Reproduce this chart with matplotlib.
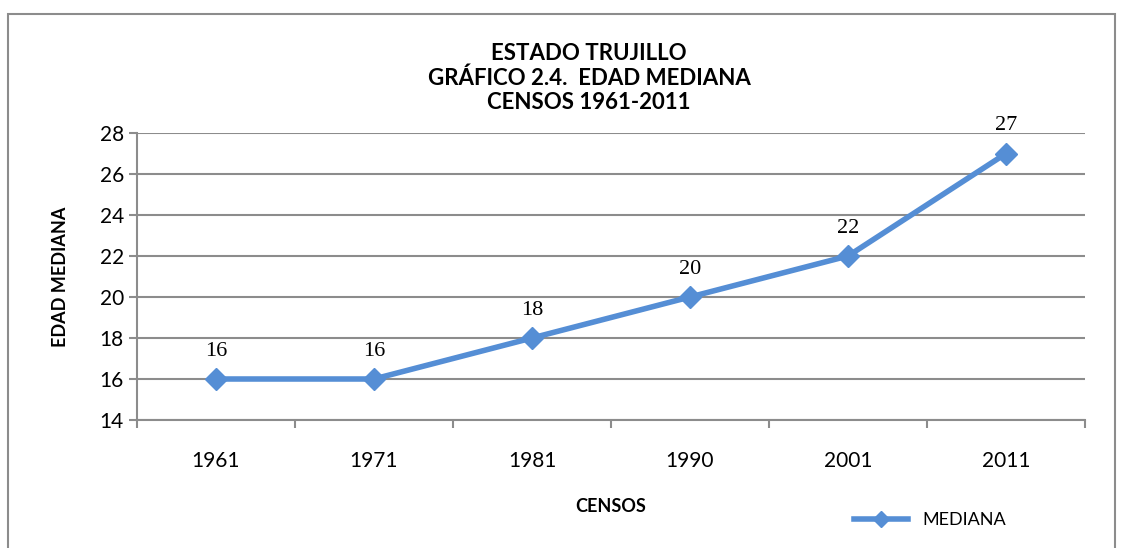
import matplotlib.pyplot as plt
from matplotlib.patches import Rectangle

censos = ["1961", "1971", "1981", "1990", "2001", "2011"]
mediana = [16, 16, 18, 20, 22, 27]

W, H = 1124, 548
fig = plt.figure(figsize=(W / 100, H / 100), dpi=100)

# marco exterior del gráfico
fig.patches.append(Rectangle((8 / W, -0.05), 1107 / W, 1 - 14 / H + 0.05,
                             transform=fig.transFigure, fill=False,
                             edgecolor="#8c8c8c", linewidth=1.5))

ax = fig.add_axes([137 / W, 1 - 420 / H, 948 / W, 287 / H])
x = range(len(censos))
ax.plot(x, mediana, color="#558ed5", linewidth=4, marker="D", markersize=11,
        label="MEDIANA", zorder=3)
for xi, v in zip(x, mediana):
    ax.annotate(str(v), (xi, v), xytext=(0, 13), textcoords="offset points",
                ha="center", va="bottom", fontsize=16, family="Liberation Serif")

ax.set_xlim(-0.5, len(censos) - 0.5)
ax.set_ylim(14, 28)
ax.set_yticks(range(14, 29, 2))
ax.set_xticks(x)
ax.set_xticklabels(censos, family="Lato", fontsize=15)
ax.set_xticks([i - 0.5 for i in range(len(censos) + 1)], minor=True)
ax.tick_params(axis="x", which="major", length=0, pad=22)
ax.tick_params(axis="x", which="minor", length=6, color="#8c8c8c", width=1.5)
ax.tick_params(axis="y", length=6, color="#8c8c8c", width=1.5, labelsize=15)
for lab in ax.get_yticklabels():
    lab.set_family("Lato")
ax.grid(axis="y", color="#8c8c8c", linewidth=1.5)
for s in ["top", "right"]:
    ax.spines[s].set_visible(False)
for s in ["left", "bottom"]:
    ax.spines[s].set_color("#8c8c8c")
    ax.spines[s].set_linewidth(1.5)

ax.set_xlabel("CENSOS", fontsize=13, fontweight="bold", family="Lato", labelpad=20)
ax.set_ylabel("EDAD MEDIANA", fontsize=13, fontweight="bold", family="Lato", labelpad=22)

fig.text(589 / W, 1 - 78 / H, "ESTADO TRUJILLO\nGRÁFICO 2.4.  EDAD MEDIANA\nCENSOS 1961-2011",
         ha="center", va="center", fontsize=16, fontweight="bold", family="Lato",
         linespacing=1.2)

ax.legend(loc="center", bbox_to_anchor=(930 / W, 1 - 520 / H), bbox_transform=fig.transFigure,
          frameon=False, prop={"family": "Lato", "size": 13}, handlelength=3,
          markerscale=0.7)

fig.savefig("out.png", dpi=100)
